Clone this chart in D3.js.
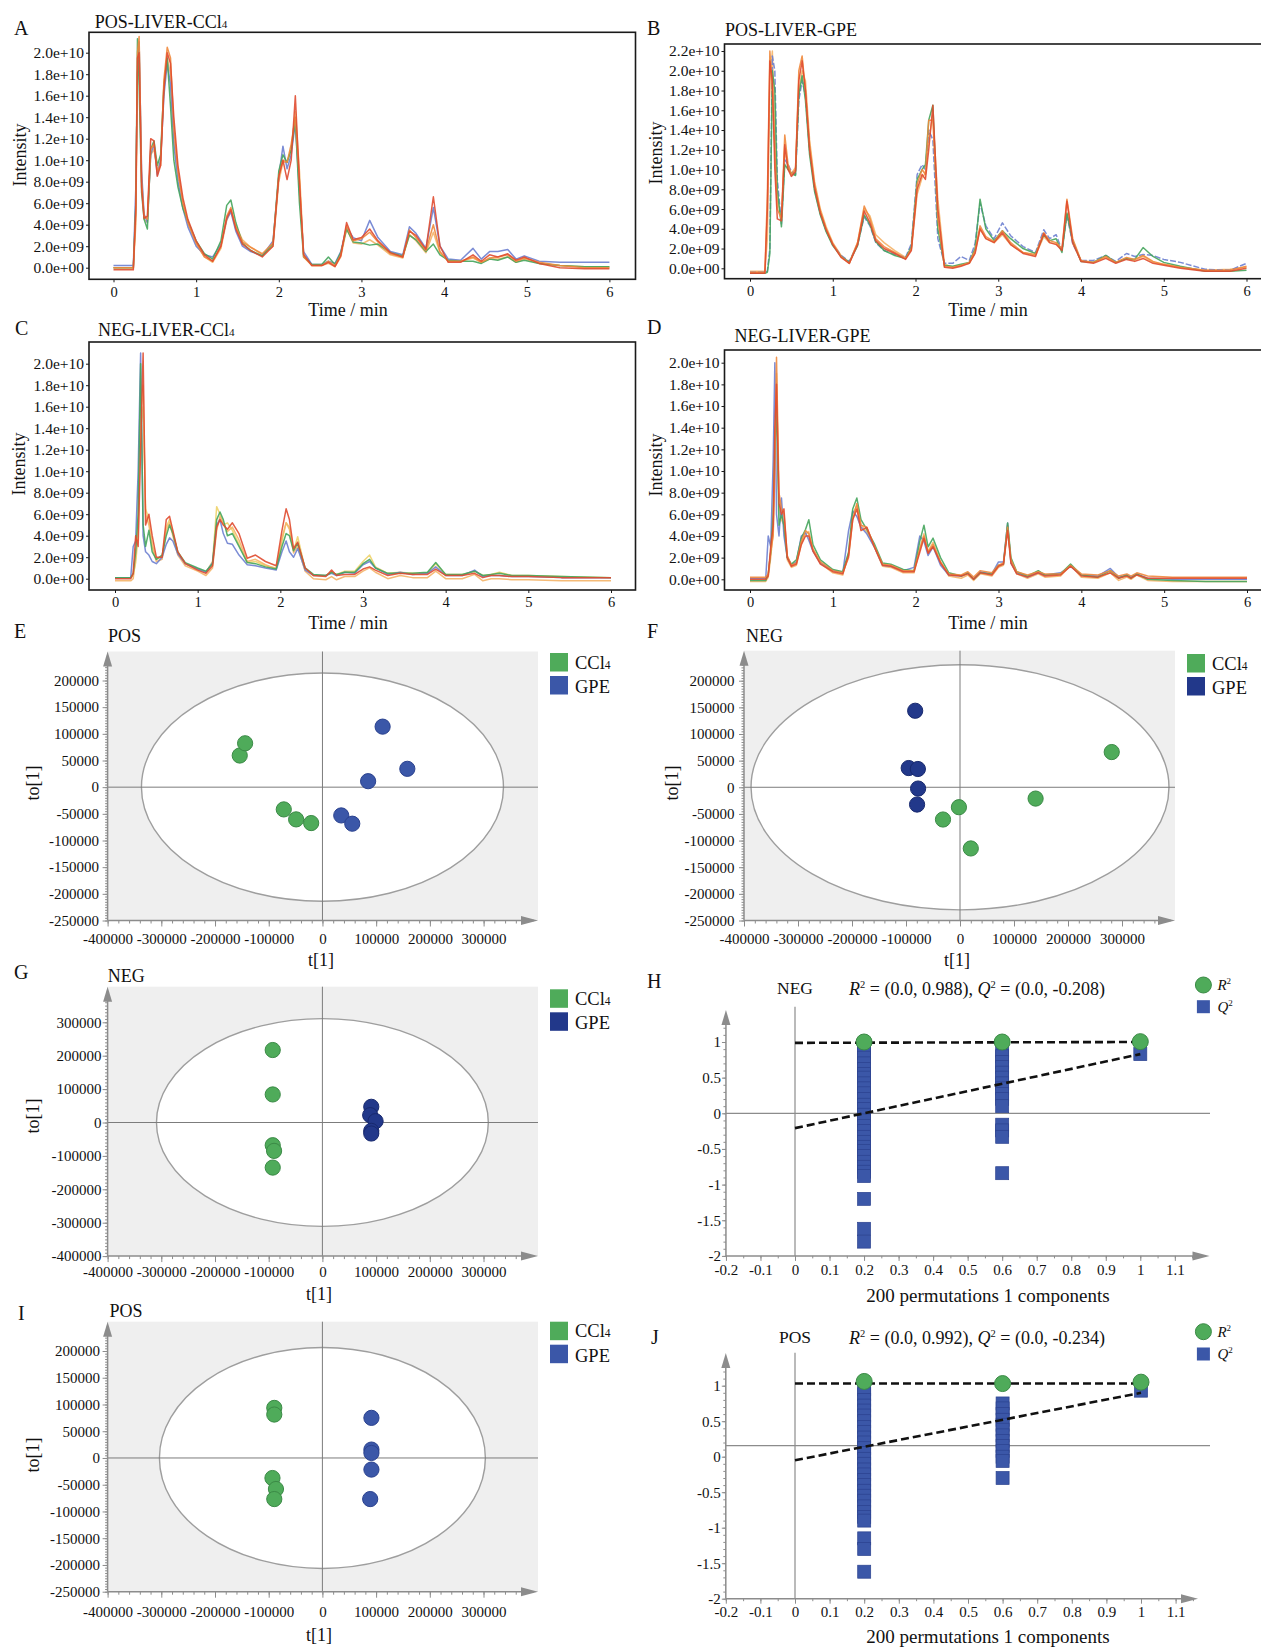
<!DOCTYPE html>
<html>
<head>
<meta charset="utf-8">
<script src="https://cdn.jsdelivr.net/npm/d3@7"></script>
<style>
  body { margin: 0; background: #fff; }
  svg { display: block; font-family: "Liberation Serif", "Times New Roman", Times, serif; }
</style>
</head>
<body>
<svg id="fig" width="1261" height="1649"></svg>
<script>
// ---------- chromatogram data (intensity in units of 1e9) ----------
var timeTicks = [0, 1, 2, 3, 4, 5, 6];
var intensityTicks = [0, 2, 4, 6, 8, 10, 12, 14, 16, 18, 20];
var intensityTicksB = [0, 2, 4, 6, 8, 10, 12, 14, 16, 18, 20, 22];

var timeA = [0,0.24,0.27,0.29,0.31,0.34,0.37,0.41,0.45,0.49,0.53,0.57,0.61,0.65,0.69,0.73,0.78,0.84,0.9,1.0,1.1,1.2,1.3,1.37,1.42,1.48,1.56,1.66,1.8,1.93,2.0,2.05,2.1,2.15,2.2,2.25,2.3,2.4,2.52,2.6,2.68,2.75,2.82,2.9,3.0,3.1,3.2,3.35,3.5,3.58,3.66,3.78,3.87,3.95,4.05,4.2,4.35,4.45,4.55,4.65,4.77,4.87,4.97,5.15,5.4,5.7,6.0];
var blueA = [0.2,0.2,7.5,18,21,9,5,4.2,10.5,11.5,8.6,10,16,19,17,11.5,8,5.5,3.8,2,1.2,1.0,2.2,4.5,5.2,3.4,2.0,1.5,1.1,2.5,8.5,11.3,9.2,10.5,13.5,7,1.5,0.3,0.3,0.6,0.4,1.5,3.8,2.8,2.5,4.4,2.8,1.5,1.2,3.8,3.2,1.8,5.6,2,0.8,0.7,1.8,0.8,1.5,1.5,1.7,0.8,1.1,0.6,0.5,0.5,0.5];
var greenA = [0,0,6,21.3,17,7,4.5,3.6,11,11.8,9.5,10.5,17,19.5,15,10,7.5,5.5,4.3,2.5,1.3,0.8,2.5,5.8,6.3,4.2,2.3,1.6,1.1,2.2,9,10.5,9.8,11,13.7,6,1,0.3,0.3,1,0.3,1.4,3.6,2.4,2.3,2.1,2.2,1.4,1.1,3,2.6,1.5,2.2,1.2,0.7,0.6,0.6,0.4,0.8,0.7,1.0,0.5,0.7,0.4,0.2,0.1,0.1];
var orangeA = [0,0,5,20,21.5,8,4.8,4.5,11,11.5,9,9.5,17.5,20.5,19.5,13,9,6,4.2,2.3,1,0.6,2,4.8,5.6,3.8,2.4,1.9,1.3,2.3,8.5,10,9.8,11.5,14,8,1,0.2,0.2,0.6,0.2,1.2,3.9,2.5,2.7,3.3,2.4,1.3,1,3.5,2.8,1.6,4,1.5,0.6,0.6,1,0.5,0.9,1.0,1.2,0.6,0.9,0.5,0.2,0,0];
var redA = [-0.2,-0.2,5.5,19.5,20,7.5,4.6,4.8,12,11.8,8.5,9.5,16.5,20,19,14,9.5,6.5,4.5,2.5,1.2,0.6,2,4.6,5.4,3.6,2.2,1.6,1.0,2,8.5,10,8.2,10,16,8,1.2,0.2,0.2,0.5,0.1,1.1,4.2,2.6,2.8,3.6,2.5,1.4,1.0,3.4,3.0,1.7,6.6,2,0.5,0.5,1.2,0.6,1.2,1.0,1.3,0.7,1.0,0.4,0,-0.1,-0.1];
var lightA = [0,0,4,18,21,8.5,4.5,4.2,10.5,11,9,10,17,19.5,18,12,8.5,6,4.1,2.2,1.0,0.5,1.8,4.4,5.3,3.9,2.6,1.9,1.2,2,8,9.8,9.8,11,14.5,9,1.3,0.2,0.2,0.4,0.1,1,3.6,2.3,2.2,2.6,2.1,1.2,0.9,3.1,2.5,1.4,3.3,1.4,0.6,0.6,0.9,0.5,0.8,0.8,1.0,0.5,0.8,0.4,0.2,0.1,0.1];

var timeB = [0,0.18,0.21,0.24,0.27,0.3,0.33,0.38,0.42,0.46,0.5,0.55,0.59,0.63,0.67,0.72,0.78,0.85,0.92,1.0,1.1,1.2,1.3,1.38,1.45,1.52,1.62,1.75,1.88,1.95,2.02,2.08,2.12,2.16,2.21,2.27,2.35,2.45,2.55,2.65,2.72,2.78,2.85,2.95,3.05,3.15,3.3,3.45,3.55,3.62,3.7,3.77,3.83,3.9,4.0,4.15,4.3,4.42,4.55,4.65,4.75,4.87,5.0,5.2,5.5,5.8,6.0];
var blueB = [-0.4,-0.4,-0.3,2,21.5,20,9,4.5,11,10.5,9.8,9.5,17,19,17.5,12,8,5.5,3.8,2.4,1.3,0.7,2.4,5.2,4.3,2.6,1.8,1.4,1.1,2.5,9.5,10.5,10,14,13,3,0.5,0.5,1.2,0.8,2.5,6.6,4.3,3.0,4.6,3.3,2.2,1.6,3.9,3.0,3.4,1.8,5.4,2.5,0.8,0.8,1.3,0.7,1.5,1.2,1.4,1.3,0.9,0.6,-0.1,-0.2,0.5];
var greenB = [-0.5,-0.5,-0.4,1.5,20,18,8,4.2,10.5,10,9.6,9.4,17.5,19.5,17,11.5,7.8,5.4,3.7,2.3,1.2,0.6,2.3,5.4,4.4,2.7,1.8,1.3,1.0,2.2,9,10,10.5,15,16.5,4,0.3,0.2,0.4,0.6,2.0,7.0,4.0,2.8,3.8,3.0,2.0,1.5,3.4,2.8,3.0,1.6,5.6,2.8,0.7,0.6,1.3,0.6,1.0,0.9,2.1,1.2,0.6,0.2,-0.3,-0.3,-0.2];
var orangeB = [-0.4,-0.4,7.5,22,18,12,6,5,13.5,10.5,9.5,10,20,21.5,18,12.5,8.5,5.8,4,2.5,1.2,0.5,2.6,6.3,5,3,2.2,1.6,1.0,2.0,8.5,10,9.5,15,15,5,0.2,0.1,0.3,0.6,1.8,4.3,3.2,2.7,3.8,2.6,1.6,1.4,3.6,2.8,2.6,2.0,7.0,3.0,0.8,0.6,1.2,0.6,1.1,0.9,1.3,0.7,0.4,0.1,-0.2,-0.2,0.2];
var redB = [-0.5,-0.5,6,21,19,10,5,4.8,12.5,10,9.3,9.8,19,21,18,12,8.2,5.6,3.9,2.4,1.1,0.5,2.4,5.8,4.6,2.8,2.0,1.5,0.9,1.8,8.0,9.5,9.0,12,16.5,6,0.1,0,0.2,0.5,1.5,4.0,3.0,2.6,3.6,2.4,1.5,1.2,3.5,2.6,2.4,1.8,6.8,2.6,0.7,0.5,1.0,0.5,0.9,0.7,1.0,0.5,0.3,0,-0.3,-0.3,0];
var lightB = [-0.3,-0.3,3,19,22,14,7,5,12,10.2,9.6,10.2,18,20,19,13,8.8,6,4.2,2.6,1.3,0.6,2.6,6,5.3,3.4,2.6,1.8,1.1,1.9,7.5,9.2,9.6,13,15.5,7,0.4,0.1,0.3,0.5,1.6,4.0,3.0,2.6,3.4,2.4,1.6,1.3,3.2,2.6,2.5,1.8,5.5,2.5,0.8,0.6,1.1,0.6,1.0,0.8,1.2,0.6,0.4,0.1,-0.2,-0.1,0.1];

var timeC = [0,0.19,0.22,0.25,0.28,0.31,0.34,0.37,0.41,0.45,0.5,0.57,0.62,0.66,0.7,0.76,0.85,1.0,1.1,1.18,1.23,1.27,1.31,1.36,1.42,1.5,1.6,1.7,1.82,1.95,2.02,2.07,2.11,2.16,2.21,2.3,2.4,2.55,2.62,2.68,2.78,2.9,3.0,3.08,3.15,3.3,3.45,3.6,3.78,3.88,4.0,4.2,4.35,4.45,4.55,4.65,4.8,5.0,5.4,6.0];
var blueC = [0.1,0.1,3,3.5,10,21,4,2.5,2.2,1.6,1.4,2.0,3.2,3.8,3.5,2.3,1.4,0.9,0.6,1.5,5,5.5,4.2,3.3,3.2,2.2,1.3,1.2,1.0,0.8,2.5,3.5,2.5,2.0,2.8,0.8,0.3,0.3,0.5,0.3,0.6,0.5,1.3,1.6,1.0,0.4,0.6,0.4,0.5,1.1,0.3,0.3,0.8,0.2,0.3,0.3,0.2,0.2,0.1,0.1];
var greenC = [0.1,0.1,0.5,2.5,6,20,5,3,4.5,2.5,1.8,2.2,4,5,4.2,2.5,1.5,1.0,0.7,1.4,5.5,6.2,5.5,4.0,4.2,3.0,1.5,1.4,1.1,0.9,3.0,4.2,4.0,2.6,3.3,1.0,0.4,0.3,0.6,0.4,0.6,0.6,1.4,1.8,1.0,0.5,0.5,0.5,0.6,1.5,0.4,0.4,0.7,0.3,0.4,0.5,0.3,0.3,0.2,0.1];
var redC = [0,0,0.5,4,3,12,21,5,6,4,2,2,5.5,5.8,4.5,2.5,1.4,0.8,0.5,1.2,4.8,5.5,5.0,4.6,5.2,4.2,1.9,2.2,1.6,1.2,4.5,6.5,5.5,2.8,3.4,1.0,0.3,0.2,0.8,0.3,0.4,0.4,0.9,1.1,0.8,0.3,0.5,0.4,0.4,0.9,0.3,0.3,0.5,0.1,0.3,0.3,0.2,0.2,0.1,0.1];
var lightC = [-0.2,-0.2,0,2,5,15,18,6,5,3,1.6,1.8,4.5,5.2,4,2.2,1.2,0.7,0.3,1.0,4.5,5.8,5.2,4.4,4.8,3.6,1.6,1.8,1.3,0.9,3.8,5.2,4.6,2.4,3.0,0.7,0,-0.1,0.2,-0.1,0.2,0.2,0.7,1.0,0.6,0,0.3,0.1,0.1,0.7,0,0,0.4,-0.2,0,0,-0.1,-0.1,-0.2,-0.2];
var yellowC = [0.1,0.1,0.3,1.5,4,14,16,6.5,5.5,3.2,1.8,2,4.8,5.5,4.3,2.4,1.4,0.9,0.6,1.6,6.7,6,5,5.2,4.5,3.2,1.5,1.6,1.2,1.0,3.5,5.2,4.8,2.6,3.9,0.9,0.3,0.3,0.6,0.4,0.7,0.7,1.6,2.2,1.1,0.5,0.6,0.5,0.5,1.4,0.4,0.4,0.7,0.3,0.4,0.6,0.3,0.3,0.2,0.1];

var timeD = [0,0.19,0.22,0.25,0.28,0.3,0.32,0.35,0.38,0.41,0.45,0.5,0.56,0.62,0.67,0.71,0.76,0.85,1.0,1.12,1.19,1.24,1.29,1.34,1.41,1.5,1.6,1.7,1.85,1.98,2.05,2.1,2.15,2.21,2.3,2.4,2.55,2.63,2.7,2.78,2.92,3.0,3.06,3.11,3.15,3.22,3.35,3.48,3.56,3.75,3.87,4.0,4.2,4.35,4.45,4.55,4.6,4.67,4.8,5.1,5.5,6.0];
var blueD = [0.1,0.1,4,3,11,20,6,4,7.5,4,2,1.3,1.6,4,4.3,3.6,2.6,1.5,0.8,0.6,4.5,6.3,5.8,4.8,4.2,3.0,1.3,1.2,0.8,1.1,4.0,3.5,2.2,3.0,1.3,0.4,0.3,0.6,0.0,0.7,0.5,1.6,1.6,5.2,1.5,0.6,0.2,0.6,0.4,0.6,1.2,0.4,0.3,1.0,0.2,0.4,0.2,0.5,0.1,0.0,0.0,0.0];
var greenD = [-0.1,-0.1,0.5,2.5,6,12,16,5,6,5,2,1.4,1.8,3.8,4.6,5.5,3.2,1.8,0.9,0.7,2.5,6.5,7.5,5.5,4.6,3.3,1.5,1.4,0.9,0.8,3.5,5.0,3.0,3.8,2.0,0.6,0.3,0.6,0.0,0.6,0.5,1.3,1.4,5.2,2.0,0.7,0.3,0.8,0.4,0.5,1.4,0.4,0.2,0.8,0.1,0.4,0.1,0.5,0.0,-0.1,-0.2,-0.2];
var orangeD = [0.2,0.2,0.5,2.5,4,10,20.5,8,6.5,6,2.2,1.3,1.5,3.5,4.5,4.2,2.8,1.6,0.8,0.6,2.0,5.5,7,5,4.8,3.1,1.4,1.3,0.8,0.8,2.8,4.0,2.5,3.2,1.6,0.5,0.4,0.7,0.2,0.8,0.6,1.3,1.5,4.8,1.8,0.7,0.4,0.7,0.5,0.5,1.3,0.5,0.4,0.8,0.3,0.5,0.3,0.6,0.3,0.2,0.2,0.2];
var redD = [0,0,0.3,3,5,14,18,7,6,6.5,2,1.2,1.4,3.2,4.0,4.0,2.6,1.4,0.7,0.5,2.2,5.5,6.5,4.5,4.8,3.0,1.3,1.2,0.7,0.7,2.5,3.8,2.4,3.0,1.5,0.4,0.3,0.5,0.0,0.6,0.4,1.2,1.4,4.5,1.5,0.5,0.2,0.6,0.3,0.4,1.2,0.3,0.2,0.6,0.1,0.3,0.1,0.4,0.1,0.1,0.1,0.1];
var lightD = [-0.2,-0.2,0.2,2,4.5,12,19,6.5,5.5,5,1.8,1.1,1.3,3.3,4.2,4.4,2.7,1.5,0.6,0.4,2.4,6,6.8,5,4.4,3.0,1.2,1.1,0.6,0.6,2.8,4.2,2.6,3.4,1.6,0.3,0.1,0.4,-0.1,0.5,0.3,1.1,1.3,5.0,1.6,0.5,0.1,0.5,0.2,0.3,1.3,0.2,0.1,0.6,-0.1,0.2,0.0,0.4,-0.1,-0.2,-0.2,-0.2];

// ---------- OPLS-DA score data [t[1], to[1]] ----------
var scoreTicksX = [-400000, -300000, -200000, -100000, 0, 100000, 200000, 300000];
var scoreTicksY = [-250000, -200000, -150000, -100000, -50000, 0, 50000, 100000, 150000, 200000];
var scoreTicksYG = [-400000, -300000, -200000, -100000, 0, 100000, 200000, 300000];

var posE_ccl4 = [[-154000, 59300], [-144000, 82300], [-72000, -41700], [-49000, -60400], [-21000, -67300]];
var posE_gpe = [[112000, 113500], [158000, 34400], [85000, 11200], [35000, -53000], [55500, -68500]];
var negF_ccl4 = [[281000, 66100], [140000, -21200], [-2000, -37400], [-31500, -60500], [20000, -114800]];
var negF_gpe = [[-83000, 143600], [-95000, 36100], [-78000, 34300], [-77600, -2400], [-79500, -32400]];
var negG_ccl4 = [[-92500, 217000], [-92500, 84000], [-92500, -68000], [-90000, -85000], [-92500, -135000]];
var negG_gpe = [[91000, 47000], [89000, 22000], [99000, 4000], [91000, -25000], [91000, -33000]];
var posI_ccl4 = [[-89600, 93600], [-89600, 81200], [-93000, -37500], [-86500, -58000], [-89600, -76800]];
var posI_gpe = [[91300, 75000], [91300, 15700], [91300, 9400], [91300, -21700], [89000, -76800]];

// ---------- permutation test data ----------
var permTicksX = [-0.2, -0.1, 0, 0.1, 0.2, 0.3, 0.4, 0.5, 0.6, 0.7, 0.8, 0.9, 1, 1.1];
var permTicksY = [-2, -1.5, -1, -0.5, 0, 0.5, 1];

var q2H_02 = [0.92,0.85,0.78,0.7,0.62,0.55,0.5,0.42,0.35,0.28,0.2,0.12,0.06,-0.02,-0.1,-0.18,-0.25,-0.33,-0.4,-0.47,-0.53,-0.6,-0.68,-0.75,-0.82,-0.88,-1.2,-1.62,-1.8];
var q2H_06 = [0.88,0.8,0.72,0.65,0.57,0.5,0.42,0.35,0.27,0.2,0.1,-0.16,-0.24,-0.33,-0.84];
var q2H_1 = [0.83];
var r2H = [1.0, 1.0, 1.005];
var r2LineH = [[0, 0.988], [1, 1.0]];
var q2LineH = [[0, -0.208], [1, 0.83]];

var q2J_02 = [0.95,0.88,0.8,0.72,0.65,0.58,0.5,0.42,0.35,0.27,0.2,0.12,0.05,-0.03,-0.1,-0.18,-0.25,-0.33,-0.4,-0.48,-0.55,-0.62,-0.7,-0.78,-0.85,-0.9,-1.15,-1.3,-1.62];
var q2J_06 = [0.75,0.68,0.6,0.52,0.45,0.38,0.3,0.22,0.15,0.08,0.0,-0.06,-0.3];
var q2J_1 = [0.93];
var r2J = [1.06, 1.03, 1.05];
var r2LineJ = [[0, 1.03], [1, 1.03]];
var q2LineJ = [[0, -0.05], [1, 0.9]];
var permX = [0.2, 0.6, 1];

// ---------- colours ----------
var cBlue = "#6d80d0", cGreen = "#45a55c", cOrange = "#f0883c", cRed = "#e04b30", cLight = "#f4b468", cYellow = "#eed36a";
var ptGreen = "#4fab5a", ptGreenEdge = "#3b8a46";
var ptBlue = "#3b57a8", ptBlueEdge = "#2b428f";
var ptNavy = "#22388a", ptNavyEdge = "#18296e";
var axisGrey = "#8c8c8c";

var svg = d3.select("#fig");
var FONT = '"Liberation Serif","Times New Roman",Times,serif';

function expLabel(v) {
  var parts = v.toExponential(1).split("e");
  var d = parts[1].slice(1);
  if (d.length < 2) d = "0" + d;
  return parts[0] + "e" + parts[1][0] + d;
}

function numLabel(v) { return String(Math.round(v * 100) / 100); }

function styleAxis(sel, size, color) {
  sel.attr("font-family", FONT).attr("font-size", size).attr("color", color);
  sel.select(".domain").remove();
  sel.selectAll("text").attr("fill", "#111");
}

function txt(g, x, y, s, size, anchor) {
  return g.append("text").attr("x", x).attr("y", y).attr("font-size", size)
    .attr("text-anchor", anchor || "start").attr("fill", "#111").text(s);
}

// text with small subscript part (CCl4)
function subTxt(g, x, y, main, sub, size, anchor) {
  var t = g.append("text").attr("x", x).attr("y", y).attr("font-size", size)
    .attr("text-anchor", anchor || "start").attr("fill", "#111");
  t.append("tspan").text(main);
  t.append("tspan").attr("font-size", size * 0.62).text(sub);
  return t;
}

function vText(g, x, y, s, size) {
  g.append("text").attr("transform", "translate(" + x + "," + y + ") rotate(-90)")
    .attr("text-anchor", "middle").attr("dy", "0.35em").attr("font-size", size).attr("fill", "#111").text(s);
}

// ---------- chromatogram panels ----------
function chromPanel(o) {
  var g = svg.append("g");
  var fx0 = o.frame[0], fy0 = o.frame[1], fx1 = o.frame[2], fy1 = o.frame[3];
  var x = d3.scaleLinear().domain([0, 6]).range(o.xr);
  var y = d3.scaleLinear().domain([0, o.ymax]).range(o.yr);
  var id = "clip" + o.letter;
  g.append("clipPath").attr("id", id).append("rect")
    .attr("x", fx0).attr("y", fy0).attr("width", fx1 - fx0).attr("height", fy1 - fy0);
  var line = d3.line().x(function(d, i) { return x(o.time[i]); }).y(function(d) { return y(d); });
  var lg = g.append("g").attr("clip-path", "url(#" + id + ")");
  o.traces.forEach(function(t) {
    lg.append("path").datum(t.values).attr("d", line).attr("fill", "none")
      .attr("stroke", t.color).attr("stroke-width", 1.5).attr("stroke-opacity", 0.9)
      .attr("stroke-linejoin", "round").attr("stroke-dasharray", t.dash || null);
  });
  g.append("rect").attr("x", fx0).attr("y", fy0).attr("width", fx1 - fx0).attr("height", fy1 - fy0)
    .attr("fill", "none").attr("stroke", "#1a1a1a").attr("stroke-width", 1.6);

  g.append("g").attr("transform", "translate(" + fx0 + ",0)")
    .call(d3.axisLeft(y).tickValues(o.yTicks).tickFormat(function(v) { return expLabel(v * 1e9); }).tickSize(3).tickPadding(2))
    .call(function(s) { styleAxis(s, 15.5, "#1a1a1a"); });
  g.append("g").attr("transform", "translate(0," + fy1 + ")")
    .call(d3.axisBottom(x).tickValues(timeTicks).tickFormat(function(d) { return d; }).tickSize(3).tickPadding(4))
    .call(function(s) { styleAxis(s, 14.5, "#1a1a1a"); });

  txt(g, o.letterPos[0], o.letterPos[1], o.letter, 20);
  subTxt(g, o.titlePos[0], o.titlePos[1], o.title, o.titleSub, 18);
  vText(g, o.intPos[0], o.intPos[1], "Intensity", 18);
  txt(g, o.timePos[0], o.timePos[1], "Time / min", 18, "middle");
}

chromPanel({
  letter: "A", title: "POS-LIVER-CCl", titleSub: "4",
  frame: [89, 32.3, 635.5, 279.3], xr: [113.5, 609.4], ymax: 20, yr: [267.7, 52.7], yTicks: intensityTicks,
  time: timeA,
  traces: [{values: lightA, color: cLight}, {values: blueA, color: cBlue}, {values: greenA, color: cGreen},
           {values: orangeA, color: cOrange}, {values: redA, color: cRed}],
  letterPos: [14, 34.5], titlePos: [94.7, 28.3], intPos: [20, 155], timePos: [348, 316]
});
chromPanel({
  letter: "B", title: "POS-LIVER-GPE", titleSub: "",
  frame: [724.5, 44, 1263, 278.7], xr: [750, 1246.5], ymax: 22, yr: [268.3, 51], yTicks: intensityTicksB,
  time: timeB,
  traces: [{values: lightB, color: cLight}, {values: blueB, color: cBlue, dash: "6,2"}, {values: greenB, color: cGreen},
           {values: orangeB, color: cOrange}, {values: redB, color: cRed}],
  letterPos: [647, 34.5], titlePos: [725, 36], intPos: [656, 153], timePos: [988, 316]
});
chromPanel({
  letter: "C", title: "NEG-LIVER-CCl", titleSub: "4",
  frame: [89, 342, 635.5, 590], xr: [115, 611], ymax: 20, yr: [578.7, 363.7], yTicks: intensityTicks,
  time: timeC,
  traces: [{values: yellowC, color: cYellow}, {values: lightC, color: cLight}, {values: blueC, color: cBlue},
           {values: greenC, color: cGreen}, {values: redC, color: cRed}],
  letterPos: [15, 334.5], titlePos: [98, 335.7], intPos: [19, 464], timePos: [348, 628.5]
});
chromPanel({
  letter: "D", title: "NEG-LIVER-GPE", titleSub: "",
  frame: [724.5, 350, 1263, 590], xr: [750, 1247], ymax: 20, yr: [579.3, 362.7], yTicks: intensityTicks,
  time: timeD,
  traces: [{values: lightD, color: cLight}, {values: blueD, color: cBlue}, {values: greenD, color: cGreen},
           {values: orangeD, color: cOrange}, {values: redD, color: cRed}],
  letterPos: [647, 334], titlePos: [734.6, 341.7], intPos: [655.5, 465], timePos: [988, 628.5]
});

// ---------- OPLS-DA score plots ----------
function scorePlot(o) {
  var g = svg.append("g");
  var x = d3.scaleLinear().domain([-400000, 300000]).range(o.xr);
  var y = d3.scaleLinear().domain(o.yd).range(o.yr);
  var left = x(-400000), bottom = y(o.yd[0]);

  g.append("rect").attr("x", left).attr("y", o.top).attr("width", o.right - left).attr("height", bottom - o.top)
    .attr("fill", "#efefef");
  g.append("ellipse").attr("cx", x(0)).attr("cy", y(0))
    .attr("rx", x(o.ell[0]) - x(0)).attr("ry", y(0) - y(o.ell[1]))
    .attr("fill", "#fff").attr("stroke", "#9e9e9e").attr("stroke-width", 1.4);
  g.append("line").attr("x1", x(0)).attr("x2", x(0)).attr("y1", o.top).attr("y2", bottom)
    .attr("stroke", "#7c7c7c").attr("stroke-width", 1);
  g.append("line").attr("x1", left).attr("x2", o.right).attr("y1", y(0)).attr("y2", y(0))
    .attr("stroke", "#7c7c7c").attr("stroke-width", 1);

  // minor ticks
  var yMinor = d3.range(o.yd[0], y.invert(o.top + 14), o.yMinor);
  var xMinor = d3.range(-400000, x.invert(o.right - 14), 20000);
  g.append("g").attr("transform", "translate(" + left + ",0)")
    .call(d3.axisLeft(y).tickValues(yMinor).tickSize(2.5).tickFormat(""))
    .call(function(s) { styleAxis(s, 15, axisGrey); });
  g.append("g").attr("transform", "translate(0," + bottom + ")")
    .call(d3.axisBottom(x).tickValues(xMinor).tickSize(3).tickFormat(""))
    .call(function(s) { styleAxis(s, 15, axisGrey); });
  // major ticks + labels
  g.append("g").attr("transform", "translate(" + left + ",0)")
    .call(d3.axisLeft(y).tickValues(o.yTicks).tickSize(5).tickPadding(o.yPad).tickFormat(String))
    .call(function(s) { styleAxis(s, 15, axisGrey); });
  g.append("g").attr("transform", "translate(0," + bottom + ")")
    .call(d3.axisBottom(x).tickValues(scoreTicksX).tickSize(6).tickPadding(o.xPad).tickFormat(String))
    .call(function(s) { styleAxis(s, 15, axisGrey); });

  // axis lines with arrows
  g.append("line").attr("x1", left).attr("x2", left).attr("y1", bottom).attr("y2", o.top + 4)
    .attr("stroke", axisGrey).attr("stroke-width", 1.5);
  g.append("line").attr("x1", left).attr("x2", o.right - 4).attr("y1", bottom).attr("y2", bottom)
    .attr("stroke", axisGrey).attr("stroke-width", 1.5);
  g.append("path").attr("d", "M" + (left - 4.5) + "," + (o.top + 15) + "L" + left + "," + o.top + "L" + (left + 4.5) + "," + (o.top + 15) + "Z")
    .attr("fill", axisGrey);
  g.append("path").attr("d", "M" + (o.right - 17) + "," + (bottom - 4.5) + "L" + o.right + "," + bottom + "L" + (o.right - 17) + "," + (bottom + 4.5) + "Z")
    .attr("fill", axisGrey);

  // points
  [[o.green, ptGreen, ptGreenEdge], [o.blue, o.blueFill, o.blueEdge]].forEach(function(s) {
    g.selectAll(null).data(s[0]).join("circle")
      .attr("cx", function(d) { return x(d[0]); }).attr("cy", function(d) { return y(d[1]); })
      .attr("r", 7.6).attr("fill", s[1]).attr("stroke", s[2]).attr("stroke-width", 1);
  });

  // legend
  g.append("rect").attr("x", o.leg[0]).attr("y", o.leg[1]).attr("width", 18).attr("height", 18.5).attr("fill", ptGreen);
  g.append("rect").attr("x", o.leg[0]).attr("y", o.leg[1] + 23).attr("width", 18).attr("height", 18.5).attr("fill", o.blueFill);
  subTxt(g, o.leg[0] + 25, o.leg[1] + 15.5, "CCl", "4", 18.5);
  txt(g, o.leg[0] + 25, o.leg[1] + 40, "GPE", 18.5);

  txt(g, o.letterPos[0], o.letterPos[1], o.letter, 20);
  txt(g, o.titlePos[0], o.titlePos[1], o.title, 18);
  vText(g, o.toPos[0], o.toPos[1], "to[1]", 18);
  txt(g, o.tPos[0], o.tPos[1], "t[1]", 18, "middle");
}

scorePlot({
  letter: "E", title: "POS", xr: [107.6, 483.6], yd: [-250000, 200000], yr: [920.5, 680.5],
  yTicks: scoreTicksY, yMinor: 5000, top: 651.5, right: 538, ell: [337000, 214000],
  green: posE_ccl4, blue: posE_gpe, blueFill: ptBlue, blueEdge: ptBlueEdge,
  yPad: 3.5, xPad: 7, leg: [550, 653],
  letterPos: [14, 638], titlePos: [108, 642], toPos: [32.7, 783], tPos: [321, 966]
});
scorePlot({
  letter: "F", title: "NEG", xr: [744, 1122], yd: [-250000, 200000], yr: [920.5, 680.7],
  yTicks: scoreTicksY, yMinor: 5000, top: 650.7, right: 1175, ell: [387000, 230000],
  green: negF_ccl4, blue: negF_gpe, blueFill: ptNavy, blueEdge: ptNavyEdge,
  yPad: 4.5, xPad: 6.5, leg: [1187, 654],
  letterPos: [647, 638], titlePos: [746, 642], toPos: [672, 783], tPos: [957, 966]
});
scorePlot({
  letter: "G", title: "NEG", xr: [107.6, 483.5], yd: [-400000, 300000], yr: [1256.1, 1022.3],
  yTicks: scoreTicksYG, yMinor: 10000, top: 986.7, right: 538, ell: [309000, 311000],
  green: negG_ccl4, blue: negG_gpe, blueFill: ptNavy, blueEdge: ptNavyEdge,
  yPad: 1, xPad: 4.5, leg: [550, 989.3],
  letterPos: [14, 979.3], titlePos: [107.8, 981.7], toPos: [32.7, 1116], tPos: [319, 1300]
});
scorePlot({
  letter: "I", title: "POS", xr: [107.6, 483.5], yd: [-250000, 200000], yr: [1591.7, 1351],
  yTicks: scoreTicksY, yMinor: 5000, top: 1321.7, right: 538, ell: [303500, 206500],
  green: posI_ccl4, blue: posI_gpe, blueFill: ptBlue, blueEdge: ptBlueEdge,
  yPad: 2.6, xPad: 9, leg: [550, 1321.7],
  letterPos: [18, 1320], titlePos: [109.4, 1317.3], toPos: [32.7, 1455], tPos: [319, 1640.7]
});

// ---------- permutation plots ----------
function permPlot(o) {
  var g = svg.append("g");
  var x = d3.scaleLinear().domain([0, 1]).range(o.xr);
  var y = d3.scaleLinear().domain([0, 1]).range(o.yr);
  var axL = x(-0.2), axB = y(-2);

  g.append("line").attr("x1", x(0)).attr("x2", x(0)).attr("y1", o.vTop).attr("y2", axB)
    .attr("stroke", axisGrey).attr("stroke-width", 1.2);
  g.append("line").attr("x1", axL).attr("x2", o.hRight).attr("y1", y(o.ref)).attr("y2", y(o.ref))
    .attr("stroke", axisGrey).attr("stroke-width", 1.2);

  var yMinor = d3.range(-20, 13).map(function(v) { return v / 10; });
  var xMinor = d3.range(-4, 24).map(function(v) { return v / 20; });
  g.append("g").attr("transform", "translate(" + axL + ",0)")
    .call(d3.axisLeft(y).tickValues(yMinor).tickSize(2.5).tickFormat(""))
    .call(function(s) { styleAxis(s, 15, axisGrey); });
  g.append("g").attr("transform", "translate(0," + axB + ")")
    .call(d3.axisBottom(x).tickValues(xMinor).tickSize(2.5).tickFormat(""))
    .call(function(s) { styleAxis(s, 15, axisGrey); });
  g.append("g").attr("transform", "translate(" + axL + ",0)")
    .call(d3.axisLeft(y).tickValues(permTicksY).tickSize(4).tickPadding(1).tickFormat(numLabel))
    .call(function(s) { styleAxis(s, 15, axisGrey); });
  g.append("g").attr("transform", "translate(0," + axB + ")")
    .call(d3.axisBottom(x).tickValues(permTicksX).tickSize(5).tickPadding(3).tickFormat(numLabel))
    .call(function(s) { styleAxis(s, 15, axisGrey); });

  g.append("line").attr("x1", axL).attr("x2", axL).attr("y1", axB).attr("y2", o.arrowTop + 4)
    .attr("stroke", axisGrey).attr("stroke-width", 1.5);
  g.append("line").attr("x1", axL).attr("x2", o.arrowRight - 4).attr("y1", axB).attr("y2", axB)
    .attr("stroke", axisGrey).attr("stroke-width", 1.5);
  g.append("path").attr("d", "M" + (axL - 4.5) + "," + (o.arrowTop + 15) + "L" + axL + "," + o.arrowTop + "L" + (axL + 4.5) + "," + (o.arrowTop + 15) + "Z")
    .attr("fill", axisGrey);
  g.append("path").attr("d", "M" + (o.arrowRight - 17) + "," + (axB - 4.5) + "L" + o.arrowRight + "," + axB + "L" + (o.arrowRight - 17) + "," + (axB + 4.5) + "Z")
    .attr("fill", axisGrey);

  // Q2 squares
  var q2 = [];
  o.q2.forEach(function(vals, i) { vals.forEach(function(v) { q2.push([permX[i], v]); }); });
  var sq = 13;
  g.selectAll(null).data(q2).join("rect")
    .attr("x", function(d) { return x(d[0]) - sq / 2; }).attr("y", function(d) { return y(d[1]) - sq / 2; })
    .attr("width", sq).attr("height", sq).attr("fill", ptBlue).attr("stroke", ptBlueEdge).attr("stroke-width", 0.7);

  var ln = d3.line().x(function(d) { return x(d[0]); }).y(function(d) { return y(d[1]); });
  [o.r2Line, o.q2Line].forEach(function(l) {
    g.append("path").attr("d", ln(l)).attr("fill", "none").attr("stroke", "#111")
      .attr("stroke-width", 2.6).attr("stroke-dasharray", "8,4");
  });

  g.selectAll(null).data(o.r2).join("circle")
    .attr("cx", function(d, i) { return x(permX[i]); }).attr("cy", function(d) { return y(d); })
    .attr("r", 8).attr("fill", ptGreen).attr("stroke", ptGreenEdge).attr("stroke-width", 1);

  // legend
  g.append("circle").attr("cx", o.leg[0]).attr("cy", o.leg[1]).attr("r", 8).attr("fill", ptGreen).attr("stroke", ptGreenEdge);
  g.append("rect").attr("x", o.leg[0] - 6.5).attr("y", o.leg[2] - 6.5).attr("width", 13).attr("height", 13).attr("fill", ptBlue);
  [["R", o.leg[1]], ["Q", o.leg[2]]].forEach(function(p) {
    var t = g.append("text").attr("x", o.leg[0] + 14).attr("y", p[1] + 5).attr("font-size", 15).attr("fill", "#111");
    t.append("tspan").attr("font-style", "italic").text(p[0]);
    t.append("tspan").attr("font-size", 9).attr("dy", -6).text("2");
  });

  txt(g, o.letterPos[0], o.letterPos[1], o.letter, 20);
  txt(g, x(0), o.titleY, o.title, 17.5, "middle");
  var f = g.append("text").attr("x", 977).attr("y", o.titleY + 1).attr("font-size", 18)
    .attr("text-anchor", "middle").attr("fill", "#111");
  f.append("tspan").attr("font-style", "italic").text("R");
  f.append("tspan").attr("font-size", 10.5).attr("dy", -7).text("2");
  f.append("tspan").attr("dy", 7).text(" = (0.0, " + o.r2Text + "), ");
  f.append("tspan").attr("font-style", "italic").text("Q");
  f.append("tspan").attr("font-size", 10.5).attr("dy", -7).text("2");
  f.append("tspan").attr("dy", 7).text(" = (0.0, " + o.q2Text + ")");
  txt(g, 988, o.axisTitleY, "200 permutations 1 components", 19, "middle");
}

permPlot({
  letter: "H", title: "NEG", xr: [795, 1140.3], yr: [1113.3, 1042], ref: 0,
  vTop: 1006.7, hRight: 1210, arrowTop: 1010, arrowRight: 1209.5,
  q2: [q2H_02, q2H_06, q2H_1], r2: r2H, r2Line: r2LineH, q2Line: q2LineH,
  r2Text: "0.988", q2Text: "-0.208",
  leg: [1203.4, 985, 1006.7], letterPos: [647, 988.3], titleY: 994, axisTitleY: 1301.5
});
permPlot({
  letter: "J", title: "POS", xr: [795, 1141], yr: [1456.7, 1385.7], ref: 0.155,
  vTop: 1352.7, hRight: 1210, arrowTop: 1353, arrowRight: 1198,
  q2: [q2J_02, q2J_06, q2J_1], r2: r2J, r2Line: r2LineJ, q2Line: q2LineJ,
  r2Text: "0.992", q2Text: "-0.234",
  leg: [1203.4, 1331.7, 1354], letterPos: [651, 1344.3], titleY: 1343.3, axisTitleY: 1643
});
</script>
</body>
</html>
